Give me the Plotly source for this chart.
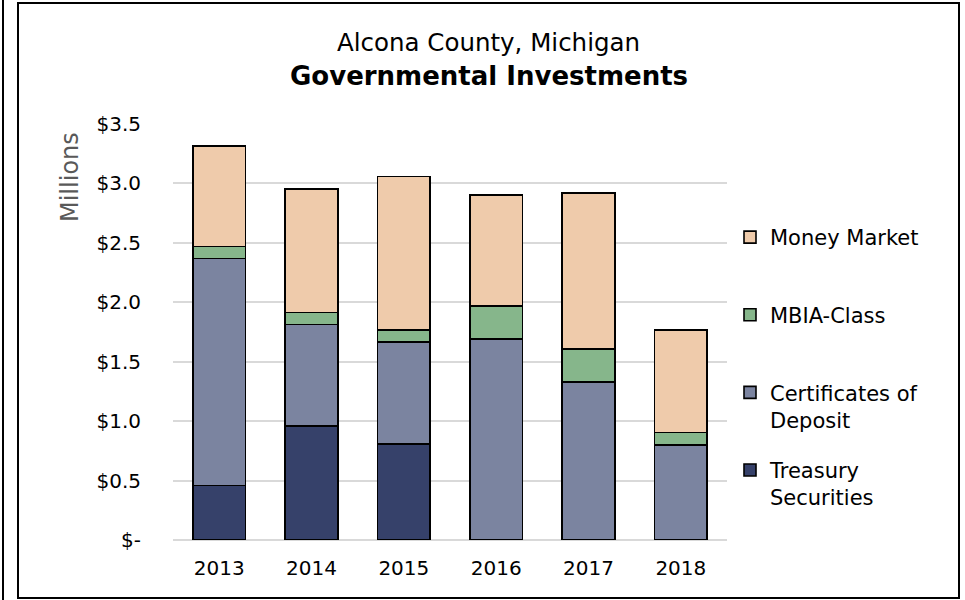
import plotly.graph_objects as go

years = ["2013", "2014", "2015", "2016", "2017", "2018"]
treasury = [0.457, 0.957, 0.806, None, None, None]
certificates = [1.911, 0.855, 0.858, 1.692, 1.330, 0.800]
mbia = [0.101, 0.101, 0.101, 0.275, 0.278, 0.103]
money_market = [0.845, 1.039, 1.293, 0.937, 1.313, 0.862]
tick_vals = [0, 0.5, 1.0, 1.5, 2.0, 2.5, 3.0, 3.5]
tick_text = ["$-", "$0.5", "$1.0", "$1.5", "$2.0", "$2.5", "$3.0", "$3.5"]

FONT = "DejaVu Sans"
W, H = 965, 600
L, R, T, B = 173, 238, 124, 60
pw, ph = W - L - R, H - T - B

def px(x):
    return (x - L) / pw

def py(y):
    return (H - B - y) / ph

series = [
    ("Treasury<br>Securities", treasury, "#36416A", 4),
    ("Certificates of<br>Deposit", certificates, "#7B84A0", 3),
    ("MBIA-Class<br> ", mbia, "#86B68B", 2),
    ("Money Market<br> ", money_market, "#EFCBAB", 1),
]

fig = go.Figure()
for i, (name, vals, col, rank) in enumerate(series):
    fig.add_trace(go.Bar(
        x=years, y=vals, name=name, legendgroup=str(i), legendrank=rank,
        marker=dict(color=col, line=dict(color="#000000", width=1.6)),
    ))

fig.update_layout(
    width=W, height=H,
    margin=dict(l=L, r=R, t=T, b=B, autoexpand=False),
    paper_bgcolor="white", plot_bgcolor="white",
    barmode="stack", bargap=0.43,
    font=dict(family=FONT, size=20, color="#000000"),
    showlegend=True,
    legend=dict(
        x=px(730), y=py(217), xanchor="left", yanchor="top",
        traceorder="grouped", tracegroupgap=20, valign="top",
        font=dict(family=FONT, size=21, color="#000000"),
        bgcolor="rgba(0,0,0,0)",
    ),
    xaxis=dict(
        showgrid=False, showline=False, zeroline=False,
        ticks="outside", ticklen=10, tickcolor="rgba(0,0,0,0)",
        tickfont=dict(size=20),
    ),
    yaxis=dict(
        range=[0, 3.5], tickvals=tick_vals, ticktext=tick_text,
        showgrid=True, gridcolor="#D9D9D9", gridwidth=1.5,
        zeroline=True, zerolinecolor="#D9D9D9", zerolinewidth=1.5,
        showline=False,
        ticks="outside", ticklen=27, tickcolor="rgba(0,0,0,0)",
        tickfont=dict(size=20),
    ),
    shapes=[
        dict(type="rect", xref="paper", yref="paper",
             x0=px(18), x1=px(959), y0=py(598), y1=py(3),
             line=dict(color="#000000", width=2), fillcolor="rgba(0,0,0,0)", layer="below"),
        dict(type="line", xref="paper", yref="paper",
             x0=px(3), x1=px(3), y0=py(600), y1=py(0),
             line=dict(color="#000000", width=2)),
    ],
    annotations=[
        dict(text="Alcona County, Michigan", xref="paper", yref="paper",
             x=px(488.5), y=py(43), xanchor="center", yanchor="middle",
             showarrow=False, font=dict(family=FONT, size=24.5, color="#000000")),
        dict(text="<b>Governmental Investments</b>", xref="paper", yref="paper",
             x=px(488.5), y=py(76), xanchor="center", yanchor="middle",
             showarrow=False, font=dict(family=FONT, size=26, color="#000000")),
        dict(text="Millions", xref="paper", yref="paper",
             x=px(70), y=py(177), xanchor="center", yanchor="middle", textangle=-90,
             showarrow=False, font=dict(family=FONT, size=24, color="#595959")),
    ],
)

fig.write_html("out.html", config={"displayModeBar": False},
               post_script="document.body.style.margin='0';")
